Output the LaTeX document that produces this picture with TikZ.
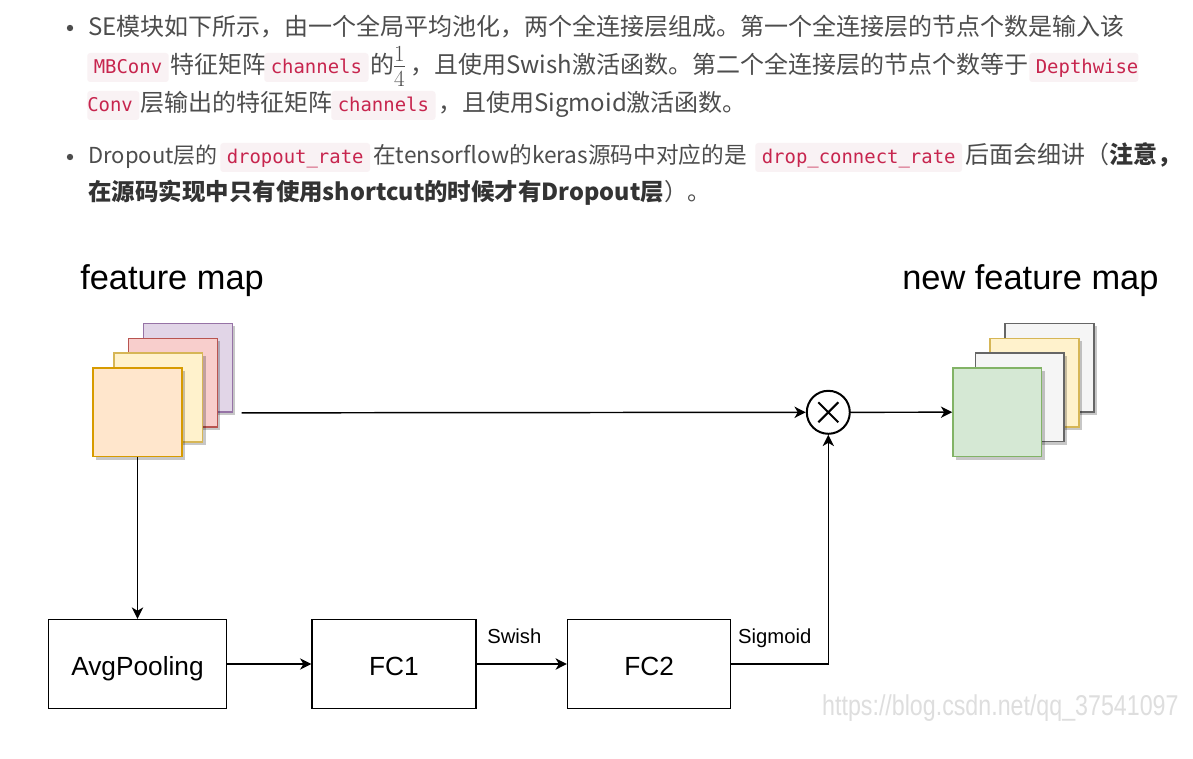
\documentclass[tikz,border=0pt]{standalone}
\usepackage{fontspec}
\setmainfont{Liberation Sans}
\newfontfamily\cjkfont{Noto Sans CJK SC}
\newfontfamily\codefont{DejaVu Sans Mono}
\usetikzlibrary{arrows.meta,shadows,calc}

\definecolor{bodytext}{HTML}{4D4D4D}
\definecolor{boldtext}{HTML}{333333}
\definecolor{codered}{HTML}{C7254E}
\definecolor{codebg}{HTML}{F9F2F4}
\definecolor{orangefill}{HTML}{FFE6CC}\definecolor{orangeline}{HTML}{D79B00}
\definecolor{yellowfill}{HTML}{FFF2CC}\definecolor{yellowline}{HTML}{D6B656}
\definecolor{redfill}{HTML}{F8CECC}\definecolor{redline}{HTML}{B85450}
\definecolor{purplefill}{HTML}{E1D5E7}\definecolor{purpleline}{HTML}{9673A6}
\definecolor{greenfill}{HTML}{D5E8D4}\definecolor{greenline}{HTML}{82B366}
\definecolor{grayfill}{HTML}{F5F5F5}\definecolor{grayline}{HTML}{666666}

\begin{document}
\begin{tikzpicture}[x=0.75pt, y=-0.75pt, every node/.style={inner sep=0pt},
    prose/.style={anchor=base west, font=\cjkfont\fontsize{18}{22}\selectfont, text=bodytext},
    code/.style={anchor=base west, font=\codefont\fontsize{14.2}{17}\selectfont, text=codered,
      fill=codebg, rounded corners=2.25pt, inner xsep=4.9pt, text height=15.75pt, text depth=6pt},
    fmap/.style={draw, line width=1.1pt, minimum size=66.5pt,
      drop shadow={shadow xshift=2.25pt, shadow yshift=-2.25pt, fill=black, opacity=0.22}},
    block/.style={draw, line width=1.1pt, minimum height=66.75pt,
      font=\fontsize{19.7}{24}\selectfont, text height=17.7pt, text depth=0pt},
    arr/.style={line width=1.1pt, -{Stealth[length=8.5pt, width=8.5pt, inset=2.5pt]}},
    lbl/.style={anchor=base west, font=\fontsize{15.2}{18}\selectfont}]

  \useasboundingbox[fill=white] (0,0) rectangle (1193,759);

  % text above the figure
  \node[circle, fill=bodytext, minimum size=4.8pt] (bul1) at (70,28) {};
  \node[prose] (t1) at (88,36) {SE模块如下所示，由一个全局平均池化，两个全连接层组成。第一个全连接层的节点个数是输入该};
  \node[code] (c2a) at (87,74) {MBConv};
  \node[prose] (t2b) at (170,74) {特征矩阵};
  \node[code] (c2c) at (264,74) {channels};
  \node[prose] (t2d) at (370,74) {的};
  \node[font=\fontsize{25}{30}\selectfont, text=bodytext] (frac) at (399.5,66.5) {\nulldelimiterspace=0pt$\frac{1}{4}$};
  \node[prose] (t2e) at (410,74) {，且使用Swish激活函数。第二个全连接层的节点个数等于};
  \node[code] (c2f) at (1029,74) {Depthwise\hspace*{-4.9pt}};
  \node[code] (c3a) at (87,112) {\hspace*{-4.9pt}Conv};
  \node[prose] (t3b) at (140,112) {层输出的特征矩阵};
  \node[code] (c3c) at (331,112) {channels};
  \node[prose] (t3d) at (438,112) {，且使用Sigmoid激活函数。};

  \node[circle, fill=bodytext, minimum size=4.8pt] (bul2) at (70,157) {};
  \node[prose, font=\cjkfont\fontsize{16.5}{20}\selectfont] (t4a) at (88,164) {Dropout层的};
  \node[code] (c4b) at (220,164) {dropout\_rate};
  \node[prose, font=\cjkfont\fontsize{17}{20}\selectfont] (t4c) at (373,164) {在tensorflow的keras源码中对应的是};
  \node[code] (c4d) at (755,164) {drop\_connect\_rate};
  \node[prose] (t4e) at (965,164) {后面会细讲（\textcolor{boldtext}{\bfseries 注意，}};
  \node[prose, font=\cjkfont\fontsize{17.6}{22}\selectfont] (t5a) at (88,201) {\textcolor{boldtext}{\bfseries 在源码实现中只有使用shortcut的时候才有Dropout层}）。};

  % input feature map
  \node[anchor=base west, font=\fontsize{25.8}{30}\selectfont] (fmlabel) at (80,290) {feature map};
  \node[fmap, fill=purplefill, draw=purpleline] (fm4) at (188,367.8) {};
  \node[fmap, fill=redfill, draw=redline] (fm3) at (173,382.8) {};
  \node[fmap, fill=yellowfill, draw=yellowline] (fm2) at (158.3,397.5) {};
  \node[fmap, fill=orangefill, draw=orangeline] (fm1) at (137.5,412.2) {};

  % output feature map
  \node[anchor=base west, font=\fontsize{25.8}{30}\selectfont] (nflabel) at (902,290) {new feature map};
  \node[fmap, fill=grayfill, draw=grayline] (nf4) at (1049.5,367.8) {};
  \node[fmap, fill=yellowfill, draw=yellowline] (nf3) at (1034.5,382.8) {};
  \node[fmap, fill=grayfill, draw=grayline] (nf2) at (1019.8,397.4) {};
  \node[fmap, fill=greenfill, draw=greenline] (nf1) at (997.3,412.2) {};

  % scale
  \node[circle, draw, line width=1.5pt, minimum size=32.25pt] (mul) at (828.3,412.3) {};
  \draw[line width=1.5pt] (mul.center) +(-7.5pt,-7.5pt) -- +(7.5pt,7.5pt)
    (mul.center) +(-7.5pt,7.5pt) -- +(7.5pt,-7.5pt);

  % SE branch
  \node[block, minimum width=133.8pt] (avg) at (137.5,664) {AvgPooling};
  \node[block, minimum width=122.8pt] (fc1) at (394,664) {FC1};
  \node[block, minimum width=122.3pt] (fc2) at (649.2,664) {FC2};

  \coordinate (fmout) at ($(fm4.south east)+(8.5,0)$);
  \draw[arr] (fmout) -- (mul.west);
  \draw[arr] (mul.east) -- (nf1.west);
  \draw[arr] (fm1.south) -- (avg.north);
  \draw[arr] (avg.east) -- (fc1.west);
  \draw[arr] (fc1.east) -- node[lbl, pos=0, xshift=7.5pt, yshift=15.75pt] {Swish} (fc2.west);
  \draw[arr] (fc2.east) -| node[lbl, pos=0, xshift=4.5pt, yshift=15.75pt] {Sigmoid} (mul.south);

  \node[anchor=base west, font=\fontsize{21.5}{26}\selectfont, text=black!13, xscale=0.81] (mark) at (822,715) {https://blog.csdn.net/qq\_37541097};
\end{tikzpicture}
\end{document}
